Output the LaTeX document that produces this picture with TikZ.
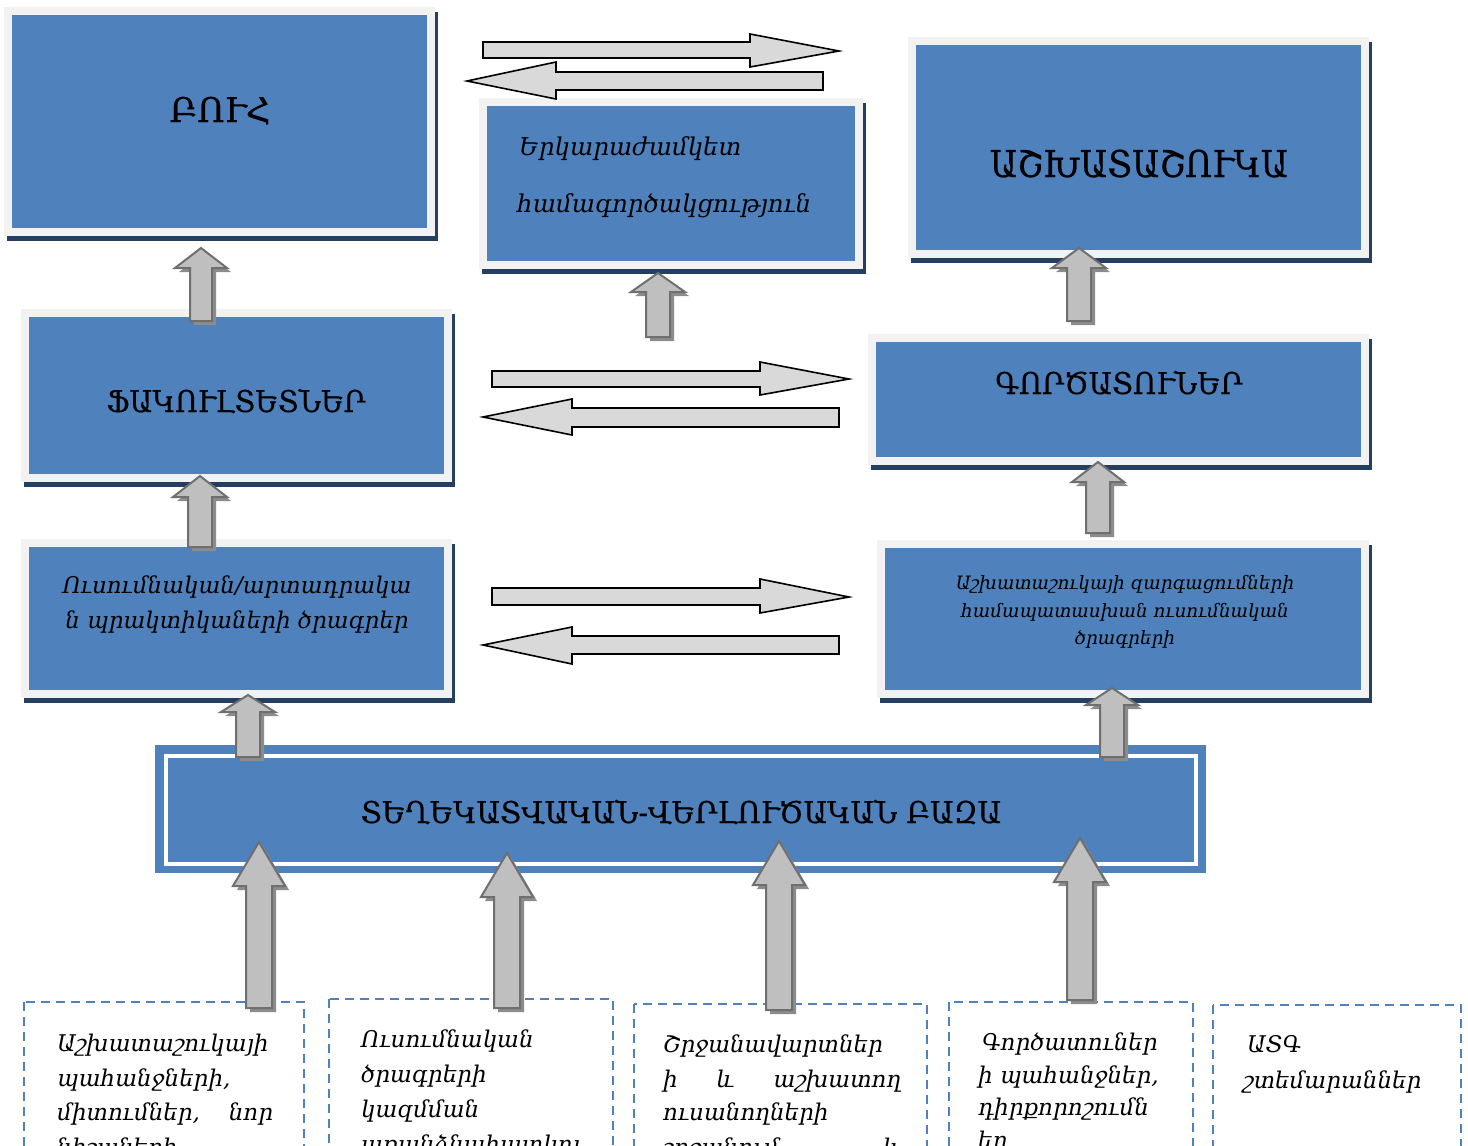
\documentclass[tikz,border=0pt]{standalone}
\usepackage{fontspec}
\usepackage{graphicx}
\setmainfont{DejaVu Serif}
\newfontfamily\capsfont{DejaVu Serif}[FakeBold=0.6]
\definecolor{boxblue}{HTML}{4F81BD}
\definecolor{framec}{HTML}{F2F2F2}
\definecolor{shadowc}{HTML}{243F60}
\definecolor{arrgray}{HTML}{BFBFBF}
\definecolor{arredge}{HTML}{6F6F6F}
\definecolor{arrshadow}{HTML}{8C8C8C}
\definecolor{harrgray}{HTML}{D9D9D9}
\tikzset{
  titletext/.style={font=\capsfont\fontsize{30}{36}\selectfont, anchor=base, inner sep=0pt, text=black},
  itline/.style={font=\itshape\fontsize{24.5}{30}\selectfont, anchor=base west, inner sep=0pt, text=black},
  itmid/.style={font=\itshape\fontsize{23}{28}\selectfont, anchor=base, inner sep=0pt, text=black},
  itsmall/.style={font=\itshape\fontsize{18.4}{22}\selectfont, anchor=base, inner sep=0pt, text=black},
  botline/.style={font=\itshape\fontsize{23}{28}\selectfont, anchor=base west, inner sep=0pt, text=black},
  dashbox/.style={draw=boxblue, line width=2.5pt, dash pattern=on 9pt off 6pt},
  uparr/.style={fill=arrgray, draw=arredge, line width=2pt, line join=miter},
  uparrsh/.style={fill=arrshadow},
  harr/.style={fill=harrgray, draw=black, line width=1.6pt, line join=miter}
}
% panel: name, x1, y1, x2, y2 (outer frame corners)
\newcommand\panel[5]{%
  \fill[shadowc] ({#2+3},{#3+5}) rectangle ({#4+3},{#5+5});
  \node[name=#1, fill=boxblue, draw=framec, line width=8pt, inner sep=0pt,
        minimum width={#4-#2-8}, minimum height={#5-#3-8}]
        at ({(#2+#4)/2},{(#3+#5)/2}) {};}
% up block arrow: tipx, tipy, bottom y, head length, head half width, shaft half width
\newcommand\blockup[6]{%
  \fill[uparrsh, shift={(4,4)}] (#1,#2) -- ({#1+#5},{#2+#4}) -- ({#1+#6},{#2+#4}) -- ({#1+#6},#3) -- ({#1-#6},#3) -- ({#1-#6},{#2+#4}) -- ({#1-#5},{#2+#4}) -- cycle;
  \filldraw[uparr] (#1,#2) -- ({#1+#5},{#2+#4}) -- ({#1+#6},{#2+#4}) -- ({#1+#6},#3) -- ({#1-#6},#3) -- ({#1-#6},{#2+#4}) -- ({#1-#5},{#2+#4}) -- cycle;}
% horizontal block arrow: tail x, shaft y0, shaft y1, head base x, head y0, head y1, tip x, tip y
\newcommand\blockh[8]{%
  \filldraw[harr] (#1,#2) -- (#4,#2) -- (#4,#5) -- (#7,#8) -- (#4,#6) -- (#4,#3) -- (#1,#3) -- cycle;}
\begin{document}
\begin{tikzpicture}[x=1pt,y=-1pt]
\useasboundingbox (0,0) rectangle (1468,1146);
\clip (0,0) rectangle (1468,1146);
\fill[white] (0,0) rectangle (1468,1146);

% panels
\panel{buh}{4}{7}{435}{236}
\panel{collab}{479}{98}{863}{269}
\panel{labor}{908}{37}{1369}{258}
\panel{fac}{21}{309}{452}{482}
\panel{prog}{21}{539}{452}{698}
\panel{empl}{868}{334}{1369}{465}
\panel{match}{877}{540}{1369}{698}

% big base box
\node[name=basebox, fill=boxblue, inner sep=0pt, minimum width=1051, minimum height=128] at (680.5,809) {};
\draw[white, line width=3.5pt] (166,756) rectangle (1196,864);

% titles
\node[titletext, font=\capsfont\fontsize{34}{40}\selectfont] (t1) at (220,122) {ԲՈՒՀ};
\node[titletext, font=\capsfont\fontsize{37}{44}\selectfont] (t3) at (1139,177) {\scalebox{0.915}[1]{ԱՇԽԱՏԱՇՈՒԿԱ}};
\node[titletext] (t4) at (236,412) {\scalebox{0.94}[1]{ՖԱԿՈՒԼՏԵՏՆԵՐ}};
\node[titletext] (t6) at (1119,394) {\scalebox{0.96}[1]{ԳՈՐԾԱՏՈՒՆԵՐ}};
\node[titletext] (tb) at (681,823) {\scalebox{0.97}[1]{ՏԵՂԵԿԱՏՎԱԿԱՆ-ՎԵՐԼՈՒԾԱԿԱՆ ԲԱԶԱ}};

% collaboration text
\node[itline] (t2a) at (519,155) {Երկարաժամկետ};
\node[itline] (t2b) at (517,212) {համագործակցություն};

% programs text
\node[itmid] (t5a) at (237,593) {Ուսումնական/արտադրակա};
\node[itmid] (t5b) at (237,628) {ն պրակտիկաների ծրագրեր};

% matching text
\node[itsmall] (t7a) at (1125,589) {Աշխատաշուկայի զարգացումների};
\node[itsmall] (t7b) at (1125,617) {համապատասխան ուսումնական};
\node[itsmall] (t7c) at (1125,644) {ծրագրերի};

% horizontal arrows
\blockh{483}{42}{58}{750}{34}{67}{839}{51}
\blockh{823}{72}{90}{556}{62}{99}{467}{81}
\blockh{492}{371}{387}{760}{362}{395}{849}{379}
\blockh{839}{408}{427}{572}{399}{435}{483}{417}
\blockh{492}{588}{605}{760}{579}{613}{849}{597}
\blockh{839}{636}{654}{572}{627}{664}{483}{645}

% small up arrows
\blockup{201}{248}{321}{20}{26}{11}
\blockup{200}{476}{547}{21}{27}{12}
\blockup{248}{695}{757}{17}{27}{12}
\blockup{658}{273}{337}{19}{27}{12}
\blockup{1079}{248}{321}{20}{27}{12}
\blockup{1098}{462}{533}{20}{26}{12}
\blockup{1112}{688}{757}{17}{26}{12}

% dashed source boxes
\draw[dashbox] (24,1002) rectangle (304,1170);
\draw[dashbox] (329,999) rectangle (613,1170);
\draw[dashbox] (634,1004) rectangle (927,1170);
\draw[dashbox] (949,1002) rectangle (1193,1170);
\draw[dashbox] (1213,1005) rectangle (1461,1170);

% big up arrows
\blockup{259}{842}{1008}{44}{26}{13}
\blockup{507}{853}{1008}{44}{26}{13}
\blockup{779}{841}{1010}{44}{26}{13}
\blockup{1080}{838}{1000}{44}{26}{13}

% source texts
\node[botline] (s1a) at (57,1051) {Աշխատաշուկայի};
\node[botline] (s1b) at (57,1086) {պահանջների,};
\node[botline] (s1c) at (57,1120) {\makebox[216pt][s]{միտումներ, նոր}};
\node[botline] (s1d) at (57,1155) {նիշաների};

\node[botline] (s2a) at (361,1047) {Ուսումնական};
\node[botline] (s2b) at (361,1082) {ծրագրերի};
\node[botline] (s2c) at (361,1117) {կազմման};
\node[botline] (s2d) at (361,1152) {առանձնահատկու};

\node[botline] (s3a) at (663,1052) {Շրջանավարտներ};
\node[botline] (s3b) at (663,1087) {\makebox[238pt][s]{ի և աշխատող}};
\node[botline] (s3c) at (663,1120) {ուսանողների};
\node[botline] (s3d) at (663,1155) {\makebox[238pt][s]{շրջանում և}};

\node[botline] (s4a) at (982,1050) {Գործատուներ};
\node[botline] (s4b) at (978,1083) {ի պահանջներ,};
\node[botline] (s4c) at (978,1115) {դիրքորոշումն};
\node[botline] (s4d) at (978,1148) {եր};

\node[botline] (s5a) at (1247,1052) {ԱՏԳ};
\node[botline] (s5b) at (1243,1088) {շտեմարաններ};
\end{tikzpicture}
\end{document}
